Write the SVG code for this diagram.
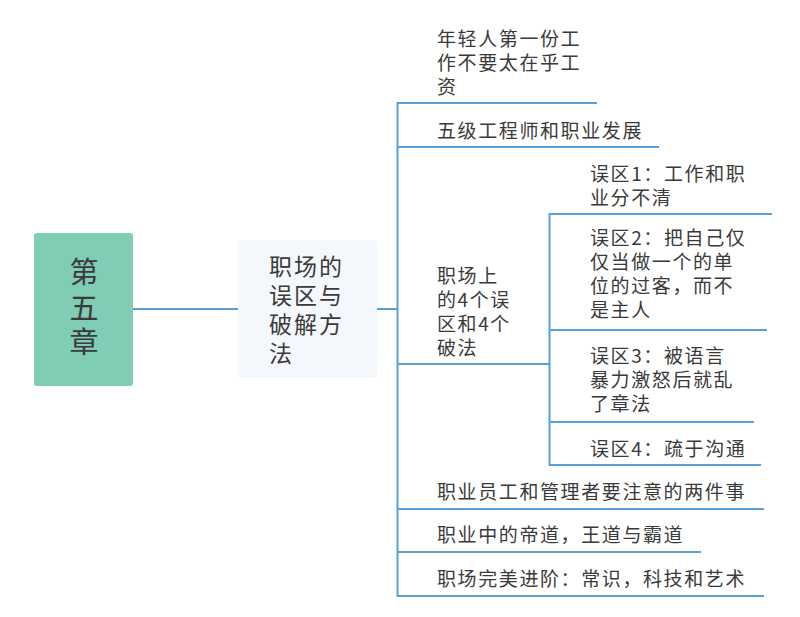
<svg xmlns="http://www.w3.org/2000/svg" width="800" height="617" viewBox="0 0 800 617">
<style>
.t{font-family:"Noto Sans CJK SC","Noto Sans",sans-serif;fill:#3a3a3a}
.c{font-size:19px;letter-spacing:1.6px}
.l{stroke:#5b9fd9;stroke-width:2;fill:none}
</style>
<rect width="800" height="617" fill="#ffffff"/>
<g id="connectors">
<line class="l" x1="133" y1="309" x2="238" y2="309"/>
<line class="l" x1="377" y1="309" x2="397.5" y2="309"/>
<path class="l" d="M597,103 H397.5 V596 H764"/>
<line class="l" x1="397.5" y1="147" x2="659" y2="147"/>
<line class="l" x1="397.5" y1="364" x2="549.5" y2="364"/>
<line class="l" x1="397.5" y1="509" x2="764" y2="509"/>
<line class="l" x1="397.5" y1="552" x2="701" y2="552"/>
<path class="l" d="M772,214 H549.5 V465 H761"/>
<line class="l" x1="549.5" y1="330" x2="767" y2="330"/>
<line class="l" x1="549.5" y1="422" x2="754" y2="422"/>
</g>
<g id="root">
<rect x="34" y="233" width="99" height="153" rx="3" fill="#7fcdb5"/>
<text class="t" font-size="29" text-anchor="middle"><tspan x="84" y="283">第</tspan><tspan x="84" y="319">五</tspan><tspan x="84" y="353">章</tspan></text>
</g>
<g id="main">
<rect x="238" y="240" width="139" height="138" rx="3" fill="#f4f7fc"/>
<text class="t" font-size="23" letter-spacing="2"><tspan x="269" y="275">职场的</tspan><tspan x="269" y="304">误区与</tspan><tspan x="269" y="333">破解方</tspan><tspan x="269" y="362">法</tspan></text>
</g>
<g id="n1"><text class="t c"><tspan x="437" y="46">年轻人第一份工</tspan><tspan x="437" y="70">作不要太在乎工</tspan><tspan x="437" y="94">资</tspan></text></g>
<g id="n2"><text class="t c" x="437" y="138">五级工程师和职业发展</text></g>
<g id="n3"><text class="t c"><tspan x="437" y="283">职场上</tspan><tspan x="437" y="307">的4个误</tspan><tspan x="437" y="331">区和4个</tspan><tspan x="437" y="355">破法</tspan></text></g>
<g id="s1"><text class="t c"><tspan x="590" y="181">误区1：工作和职</tspan><tspan x="590" y="205">业分不清</tspan></text></g>
<g id="s2"><text class="t c"><tspan x="590" y="245">误区2：把自己仅</tspan><tspan x="590" y="269">仅当做一个的单</tspan><tspan x="590" y="293">位的过客，而不</tspan><tspan x="590" y="317">是主人</tspan></text></g>
<g id="s3"><text class="t c"><tspan x="590" y="363">误区3：被语言</tspan><tspan x="590" y="387">暴力激怒后就乱</tspan><tspan x="590" y="411">了章法</tspan></text></g>
<g id="s4"><text class="t c" x="590" y="456">误区4：疏于沟通</text></g>
<g id="n4"><text class="t c" x="437" y="499">职业员工和管理者要注意的两件事</text></g>
<g id="n5"><text class="t c" x="437" y="542">职业中的帝道，王道与霸道</text></g>
<g id="n6"><text class="t c" x="437" y="586">职场完美进阶：常识，科技和艺术</text></g>
</svg>
